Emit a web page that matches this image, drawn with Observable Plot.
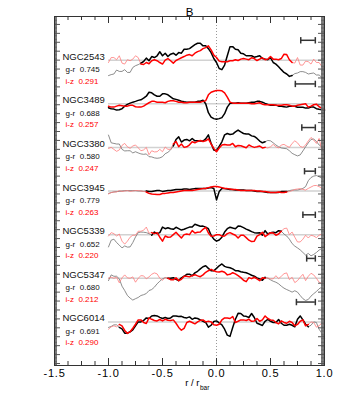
<!DOCTYPE html>
<html><head><meta charset="utf-8">
<script src="https://cdn.jsdelivr.net/npm/d3@7"></script>
<script src="https://cdn.jsdelivr.net/npm/@observablehq/plot@0.6"></script>
<style>body{margin:0;background:#fff} svg{display:block}</style>
</head><body><div id="chart"></div>
<script>
// radial sampling grids, r / r_bar (A: main samples, B: samples half-way between them)
const radiusA = [-1.00,-0.95,-0.90,-0.85,-0.80,-0.75,-0.70,-0.65,-0.60,-0.55,-0.50,-0.45,-0.40,-0.35,-0.30,-0.25,-0.20,-0.15,-0.10,-0.05,
  0.00,0.05,0.10,0.15,0.20,0.25,0.30,0.35,0.40,0.45,0.50,0.55,0.60,0.65,0.70,0.75,0.80,0.85,0.90,0.95,1.00];
const radiusB = [-0.975,-0.925,-0.875,-0.825,-0.775,-0.725,-0.675,-0.625,-0.575,-0.525,-0.475,-0.425,-0.375,-0.325,-0.275,-0.225,-0.175,-0.125,-0.075,-0.025,
  0.025,0.075,0.125,0.175,0.225,0.275,0.325,0.375,0.425,0.475,0.525,0.575,0.625,0.675,0.725,0.775,0.825,0.875,0.925,0.975];
const galaxies = ["NGC2543","NGC3489","NGC3380","NGC3945","NGC5339","NGC5347","NGC6014"];
const grMean = ["0.745","0.688","0.580","0.779","0.652","0.680","0.691"];
const izMean = ["0.291","0.257","0.247","0.263","0.220","0.212","0.290"];
// part of the profile drawn thick (inside the bar)
const thickLo = [-0.70,-1.00,-0.40,-0.65,-0.60,-0.45,-0.90];
const thickHi = [0.70,1.00,0.45,0.65,0.60,0.45,0.85];
// error bars (bar length uncertainty)
const errLo = [0.78,0.73,0.79,0.815,0.80,0.835,0.74];
const errHi = [0.915,0.915,0.915,0.915,0.915,0.915,0.915];
// colour offsets (mag) from each galaxy's mean, at radiusA (…A) and radiusB (…B)
const gr2543A = [-0.078,-0.07,-0.057,-0.048,-0.062,-0.028,-0.015,0.01,0.018,0.022,0.022,0.018,0.035,0.038,0.055,0.058,0.078,0.085,0.072,0.038,
  -0.012,-0.048,0.022,0.068,0.052,0.032,0.022,0.015,0.022,0.005,0.013,-0.02,-0.048,-0.07,-0.078,-0.065,-0.058,-0.07,-0.065,-0.075,-0.092];
const gr2543B = [-0.073,-0.05,-0.057,-0.062,-0.037,-0.023,-0.007,-0.003,0.013,0.042,0.035,0.03,0.025,0.035,0.055,0.068,0.085,0.072,0.058,0.008,
  -0.042,-0.025,0.068,0.055,0.035,0.022,0.022,0.018,0.008,0.002,-0.012,-0.033,-0.062,-0.082,-0.068,-0.058,-0.062,-0.067,-0.075,-0.087];
const iz2543A = [-0.012,0.013,0.022,-0.02,-0.003,0.022,-0.02,-0.012,-0.003,-0.003,-0.02,0.008,-0.015,0.005,0.018,0.028,0.035,0.048,0.063,0.052,
  0.013,-0.008,-0.008,-0.003,-0.002,0.008,0.002,0.008,0.005,0.002,0.018,0.005,0.008,0.028,-0.012,0.013,-0.025,-0.008,0.005,-0.012,-0.042];
const iz2543B = [0.013,0.002,-0.015,0.002,0.005,0.013,-0.022,-0.018,0.002,-0.012,0,-0.003,-0.002,0.012,0.025,0.022,0.043,0.058,0.072,0.025,
  -0.005,-0.008,-0.003,0.002,0.005,0.005,0.012,-0.002,0.012,0.005,0.005,0.002,0.03,0.002,-0.015,-0.025,-0.005,-0.02,-0.012,-0.032];
const gr3489A = [-0.02,-0.027,-0.03,-0.012,0.003,0.012,0.02,0.038,0.055,0.038,0.05,0.045,0.025,0.018,0.01,0.008,0.008,0.013,0,-0.067,
  -0.078,-0.07,-0.017,0.003,0.005,0.002,0.005,0.008,0.012,0.002,-0.008,-0.007,-0.013,-0.017,-0.012,-0.018,-0.018,-0.022,-0.017,-0.028,-0.033];
const gr3489B = [-0.025,-0.032,-0.025,-0.003,0.008,0.017,0.028,0.058,0.045,0.038,0.05,0.035,0.022,0.013,0.008,0.008,0.012,0.018,-0.045,-0.075,
  -0.075,-0.05,0.002,0.003,0.003,0.002,0.008,0.012,0.008,-0.003,-0.008,-0.012,-0.015,-0.013,-0.013,-0.018,-0.022,-0.017,-0.025,-0.03];
const iz3489A = [-0.013,-0.017,-0.008,-0.012,-0.008,-0.015,-0.017,-0.003,0.012,0.008,0.007,0.012,0.015,0.008,0.005,0.008,0.008,0.008,0.015,0.058,
  0.067,0.065,0.033,0.003,0.002,0.003,0.002,0,0.005,-0.005,-0.005,-0.008,-0.007,-0.005,-0.012,-0.008,-0.002,-0.017,-0.005,-0.015,-0.028];
const iz3489B = [-0.017,-0.012,-0.01,-0.012,-0.008,-0.017,-0.012,0.005,0.012,0.008,0.005,0.015,0.012,0.007,0.005,0.008,0.008,0.012,0.045,0.063,
  0.067,0.055,0.008,0.002,0.002,0.003,0,0.002,-0.002,-0.005,-0.005,-0.008,-0.005,-0.008,-0.012,-0.005,0,-0.012,-0.002,-0.022];
const gr3380A = [0.062,0.02,0.017,-0.018,-0.017,-0.022,-0.033,-0.033,-0.048,-0.055,-0.047,-0.025,0.007,0.053,0.037,0.033,0.033,0.032,0.043,0.02,
  -0.017,0.028,0.07,0.067,0.087,0.07,0.067,0.055,0.032,0.028,0.033,0.012,-0.003,-0.007,-0.03,-0.043,-0.018,0.023,0.042,0.012,-0.03];
const gr3380B = [0.023,0.017,-0.01,-0.017,-0.028,-0.028,-0.035,-0.047,-0.053,-0.053,-0.032,-0.013,0.04,0.027,0.04,0.045,0.033,0.032,0.063,-0.013,
  0.005,0.063,0.065,0.078,0.078,0.067,0.058,0.045,0.023,0.035,0.023,0.003,-0.005,-0.017,-0.037,-0.038,0.003,0.04,0.03,0.003];
const iz3380A = [-0.005,-0.01,-0.013,0.02,-0.005,0.012,-0.017,0,-0.017,-0.022,-0.022,-0.01,0.017,0.003,0,0.013,0.023,0.035,0.033,0.017,
  -0.022,0.012,0.012,0.02,0.01,0.003,0.012,0,0.007,0,0.003,0.003,0.012,0.007,0.02,0.023,0,0.033,0.037,0.045,-0.017];
const iz3380B = [0,-0.02,0.01,0.003,0.007,-0.002,-0.013,-0.037,-0.023,-0.01,0.002,-0.01,0.03,0.017,0.003,0.028,0.03,0.03,0.043,-0.005,
  -0.003,0.015,0.012,0.003,0.008,-0.002,0.005,0.003,-0.003,-0.003,0.015,-0.003,0.015,0,0.033,0.005,0.012,0.05,0.02,-0.013];
const gr3945A = [-0.012,-0.005,-0.002,0.002,0.002,0.002,0,0,-0.003,0.002,-0.002,0.002,0.005,0.008,0.01,0.008,0.012,0.013,0.013,0.018,
  -0.045,0.012,0.01,0.007,0.005,0.005,0.002,0,-0.002,-0.005,-0.007,-0.008,-0.003,-0.002,0.005,0.005,0.013,0.052,0.075,0.072,0.042];
const gr3945B = [-0.008,-0.003,0,0.002,0.002,0,-0.002,-0.002,0,0.002,0,0.003,0.007,0.008,0.01,0.01,0.012,0.013,0.015,0.013,
  -0.003,0.012,0.008,0.005,0.005,0.003,0.002,-0.002,-0.003,-0.007,-0.008,-0.007,-0.003,0.002,0.005,0.008,0.022,0.068,0.078,0.065];
const iz3945A = [-0.015,-0.005,0.002,0,-0.002,0.002,0,-0.005,-0.015,-0.018,-0.013,-0.01,-0.007,-0.003,0.002,0.002,0.005,0.01,0.013,0.02,
  0.023,0.017,0.012,0.008,0.005,0.003,0.002,0.002,0,-0.003,-0.007,-0.007,-0.007,-0.005,0.002,0.01,0.008,0.013,0.027,0.022,0.005];
const iz3945B = [-0.008,-0.005,-0.002,0.002,0,0.002,-0.002,-0.012,-0.017,-0.018,-0.012,-0.008,-0.005,0,0.002,0.003,0.008,0.012,0.017,0.023,
  0.02,0.013,0.01,0.007,0.003,0.002,0.002,0,-0.002,-0.005,-0.008,-0.005,-0.008,-0.003,0.008,0.012,0.005,0.02,0.028,0.015];
const gr5339A = [-0.062,-0.023,-0.053,-0.057,-0.062,-0.012,0.013,0.01,-0.003,0.005,0.038,0.035,0.027,0.03,0.027,0.038,0.052,0.042,0.038,-0.003,
  -0.033,-0.013,0.03,0.033,0.043,0.035,0.022,0.01,0.01,0.02,0.01,0.01,0.017,-0.007,-0.045,-0.067,-0.09,-0.095,-0.1,-0.078,-0.053];
const gr5339B = [-0.028,-0.04,-0.067,-0.063,-0.04,0.01,0.012,0.005,0.013,0.01,0.03,0.03,0.037,0.023,0.033,0.038,0.047,0.043,0.03,-0.023,
  -0.027,0.013,0.037,0.03,0.042,0.028,0.015,0.008,-0.003,0.003,0.012,0.02,0.003,-0.023,-0.058,-0.077,-0.103,-0.107,-0.09,-0.07];
const iz5339A = [-0.007,0.005,0.003,-0.048,-0.013,-0.003,0.017,0.038,0.01,0.01,-0.033,-0.013,0,-0.003,0,0,0.008,0.013,0.037,-0.008,
  0,-0.008,0.005,0.003,-0.017,-0.003,-0.028,-0.033,0,-0.01,0.01,-0.003,0.017,0.033,0.013,-0.037,-0.023,-0.017,-0.007,-0.003,-0.012];
const iz5339B = [0.01,-0.007,-0.033,-0.033,-0.003,0.017,0.022,0.007,0.005,-0.013,-0.007,-0.012,0.012,-0.017,0.003,0.02,0.012,0.027,0.008,-0.007,
  0,-0.007,0.01,-0.003,-0.003,-0.015,-0.035,-0.008,0.012,0,0.008,0.003,0.03,0,-0.013,-0.037,-0.003,-0.003,-0.015,0.003];
const gr5347A = [-0.012,0.01,-0.003,-0.062,-0.1,-0.103,-0.087,-0.077,-0.057,-0.028,-0.003,0,0.003,-0.012,0.01,0.02,0.027,0.047,0.063,0.038,
  0.05,0.072,0.055,0.047,0.038,0.03,0.022,0.01,-0.003,0.005,-0.008,-0.02,-0.04,-0.057,-0.07,-0.07,-0.103,-0.107,-0.078,-0.053,-0.062];
const gr5347B = [0.017,0.01,-0.04,-0.087,-0.11,-0.097,-0.083,-0.062,-0.045,-0.015,0.003,0,-0.005,0.002,0.02,0.013,0.035,0.058,0.05,0.038,
  0.063,0.06,0.053,0.038,0.033,0.028,0.015,0.002,-0.01,0,-0.015,-0.028,-0.05,-0.063,-0.063,-0.087,-0.112,-0.09,-0.067,-0.045];
const iz5347A = [0,0,-0.023,0.017,0,-0.02,0.013,-0.003,0.02,0.022,-0.01,0,-0.008,-0.012,0.01,0.007,0.018,0.008,0.03,0.045,
  0.033,0.035,0.017,0.028,0.013,-0.01,0.003,0.005,-0.012,0,-0.003,0.013,0.01,0.027,0.005,-0.012,0.02,0.01,0.017,-0.02,-0.003];
const iz5347B = [0.005,0.005,0.002,0.002,0.007,0,0.012,0.007,0.027,0,0.003,-0.007,0.002,-0.005,0.01,0.013,0.012,0.017,0.038,0.038,
  0.032,0.03,0.02,0.022,0.003,-0.017,-0.002,-0.003,0.003,0.002,-0.003,-0.002,0.023,-0.007,-0.022,0.005,-0.012,0.025,0,-0.027];
const gr6014A = [-0.028,-0.015,-0.028,-0.057,-0.05,-0.02,0,0.02,0.03,0.03,0.017,0.017,0.03,0.027,0.022,0.025,0.02,0.01,-0.003,-0.017,
  0.005,-0.015,-0.067,-0.028,0.043,0.03,0.022,0.022,-0.012,0.003,0.003,-0.003,-0.007,-0.017,-0.017,0.013,0.01,-0.025,0,-0.037,-0.083];
const gr6014B = [-0.023,-0.015,-0.035,-0.057,-0.04,0,0.007,0.017,0.032,0.023,0.022,0.02,0.03,0.028,0.02,0.013,0.017,0.003,-0.027,0.002,
  -0.005,-0.037,-0.073,0.013,0.042,0.028,0.042,-0.007,-0.018,0.012,-0.003,0.012,-0.017,-0.012,-0.025,0.03,-0.012,-0.017,-0.003,-0.057];
const iz6014A = [-0.037,-0.02,-0.013,-0.043,-0.05,-0.012,0.01,-0.008,0.013,0.005,0.005,0.008,0.01,-0.028,-0.033,0.003,-0.01,0.008,0,0,
  -0.017,0.01,0.02,0.027,0.003,0.01,0.013,0.005,0.003,0.03,0.01,-0.003,0.005,-0.007,-0.003,-0.013,0.01,-0.013,-0.003,-0.02,-0.017];
const iz6014B = [-0.025,-0.025,-0.02,-0.058,-0.032,0.01,-0.003,0.02,0.007,0.012,0.013,0.007,-0.007,-0.042,-0.003,-0.003,0,0.01,0.003,-0.015,
  -0.012,0.02,0.017,-0.003,0.01,0.007,0.003,0.017,0.01,0.017,0.008,-0.01,-0.003,0.003,-0.02,0.003,-0.02,0,-0.027,-0.005];
const grProfiles = [[gr2543A,gr2543B],[gr3489A,gr3489B],[gr3380A,gr3380B],[gr3945A,gr3945B],[gr5339A,gr5339B],[gr5347A,gr5347B],[gr6014A,gr6014B]];
const izProfiles = [[iz2543A,iz2543B],[iz3489A,iz3489B],[iz3380A,iz3380B],[iz3945A,iz3945B],[iz5339A,iz5339B],[iz5347A,iz5347B],[iz6014A,iz6014B]];
const xMajorTicks = [-1.5,-1.0,-0.5,0.0,0.5,1.0];
const xMinorTicks = [-1.375,-1.25,-1.125,-0.875,-0.75,-0.625,-0.375,-0.25,-0.125,0.125,0.25,0.375,0.625,0.75,0.875];
const panelStep = 0.22;

const W = 341, H = 400, mL = 54, mR = 17, mT = 16, mB = 35;
const plotH = H - mT - mB, plotW = W - mL - mR;

const panels = galaxies.map((g, i) => ({g, i, off: -i * panelStep, gr: grMean[i], iz: izMean[i], lo: errLo[i], hi: errHi[i]}));
const rows = [];
const eps = 1e-6;
panels.forEach(p => {
  [["gr", grProfiles[p.i]], ["iz", izProfiles[p.i]]].forEach(([band, [a, b]]) => {
    const pts = radiusA.map((x, k) => ({x, v: a[k]})).concat(radiusB.map((x, k) => ({x, v: b[k]}))).sort((u, w) => u.x - w.x);
    pts.forEach(({x, v}) => {
      const y = p.off + v;
      if (x >= thickLo[p.i] - eps && x <= thickHi[p.i] + eps) rows.push({g: p.g, band, part: "thick", x, y});
      if (x <= thickLo[p.i] + eps) rows.push({g: p.g, band, part: "thinL", x, y});
      if (x >= thickHi[p.i] - eps) rows.push({g: p.g, band, part: "thinR", x, y});
    });
  });
});
const sel = (band, thick) => rows.filter(d => d.band === band && ((d.part === "thick") === thick));
const yDense = d3.range(-1.54, 0.2201, 0.004);
const yMajor = d3.range(-1.53, 0.2201, 0.045);

const capSymbol = {draw(c, size) { const r = Math.sqrt(size / Math.PI); c.moveTo(0, -r); c.lineTo(0, r); }};
const font = "Liberation Sans, Arial, Helvetica, sans-serif";

const chart = Plot.plot({
  width: W, height: H, marginLeft: mL, marginRight: mR, marginTop: mT, marginBottom: mB,
  style: {fontFamily: font, background: "#fff", color: "#000"},
  x: {domain: [-1.5, 1.0], axis: null},
  y: {domain: [-1.54, 0.22], axis: null},
  marks: [
    Plot.ruleY(panels, {y: "off", x1: -1, x2: 1, stroke: "#d2d2d2", strokeWidth: 1.5}),
    Plot.ruleX([0], {stroke: "#999", strokeWidth: 1, strokeDasharray: "1,2"}),
    Plot.line(sel("gr", false), {x: "x", y: "y", z: d => d.g + d.part, stroke: "#707070", strokeWidth: 0.8}),
    Plot.line(sel("iz", false), {x: "x", y: "y", z: d => d.g + d.part, stroke: "#ff7b7b", strokeWidth: 0.8}),
    Plot.line(sel("gr", true), {x: "x", y: "y", z: "g", stroke: "#000", strokeWidth: 1.5}),
    Plot.line(sel("iz", true), {x: "x", y: "y", z: "g", stroke: "#ff0000", strokeWidth: 1.5}),
    // error bars
    Plot.ruleY(panels, {y: d => d.off + 0.1, x1: "lo", x2: "hi", stroke: "#333", strokeWidth: 1.5}),
    Plot.dot(panels, {x: "lo", y: d => d.off + 0.1, symbol: capSymbol, r: 3.2, stroke: "#333", strokeWidth: 1.5, fill: "none"}),
    Plot.dot(panels, {x: "hi", y: d => d.off + 0.1, symbol: capSymbol, r: 3.2, stroke: "#333", strokeWidth: 1.5, fill: "none"}),
    // labels
    Plot.text(panels, {y: "off", text: "g", frameAnchor: "left", dx: 8, dy: -3.5, textAnchor: "start", fontSize: 9.5, fill: "#111"}),
    Plot.text(panels, {y: "off", text: d => "g-r  " + d.gr, frameAnchor: "left", dx: 11, dy: 9.5, textAnchor: "start", fontSize: 8, fill: "#111"}),
    Plot.text(panels, {y: "off", text: d => "i-z  " + d.iz, frameAnchor: "left", dx: 11, dy: 21, textAnchor: "start", fontSize: 8, fill: "#ff0000"}),
    // ticks (inward)
    Plot.tickX(xMajorTicks, {x: d => d, insetBottom: plotH - 7, stroke: "#333"}),
    Plot.tickX(xMajorTicks, {x: d => d, insetTop: plotH - 7, stroke: "#333"}),
    Plot.tickX(xMinorTicks, {x: d => d, insetBottom: plotH - 4, stroke: "#333"}),
    Plot.tickX(xMinorTicks, {x: d => d, insetTop: plotH - 4, stroke: "#333"}),
    Plot.tickY(yDense, {y: d => d, insetRight: plotW - 3, stroke: "#666", strokeWidth: 1}),
    Plot.tickY(yDense, {y: d => d, insetLeft: plotW - 3, stroke: "#666", strokeWidth: 1}),
    Plot.tickY(yMajor, {y: d => d, insetRight: plotW - 6, stroke: "#555"}),
    Plot.tickY(yMajor, {y: d => d, insetLeft: plotW - 6, stroke: "#555"}),
    Plot.frame({stroke: "#333", strokeWidth: 1}),
    Plot.axisX(xMajorTicks, {tickSize: 0, tickPadding: 4, fontSize: 11, tickFormat: d => d.toFixed(1), label: null}),
    Plot.text(["B"], {frameAnchor: "top", dy: -9, fontSize: 11.5}),
    Plot.text(["r / r"], {frameAnchor: "bottom", dx: 10, dy: 20, textAnchor: "end", fontSize: 9.5}),
    Plot.text(["bar"], {frameAnchor: "bottom", dx: 10.5, dy: 24, textAnchor: "start", fontSize: 6.5})
  ]
});
d3.select(chart).selectAll('g[aria-label="x-axis tick label"] text').attr("letter-spacing", "0.8");
document.getElementById("chart").appendChild(chart);
</script>
</body></html>
